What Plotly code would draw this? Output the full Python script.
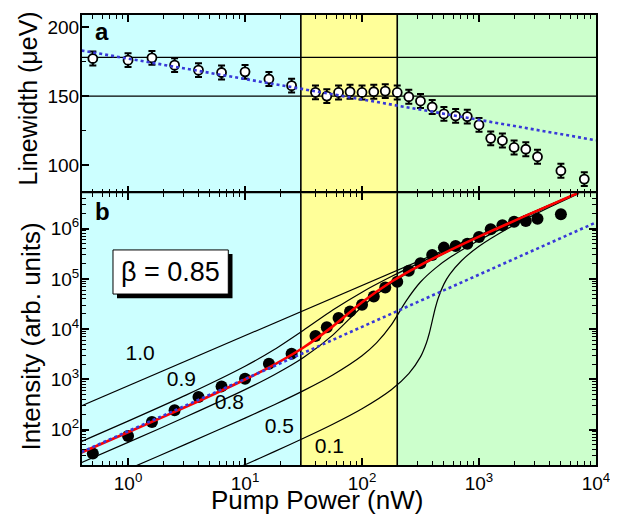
import math
import plotly.graph_objects as go
from plotly.subplots import make_subplots

# ---------------- data ----------------
# panel a: linewidth vs pump power
pump_a = [0.5, 1, 1.6, 2.5, 4, 6.3, 10, 16, 25, 40, 50, 63, 79, 100, 126, 158, 200,
          251, 316, 398, 501, 631, 794, 1000, 1259, 1585, 1995, 2512, 3162, 5012, 7943]
linewidth = [177.2, 176.0, 177.7, 172.4, 168.8, 167.1, 167.6, 162.4, 157.6, 152.8, 150.1,
             152.7, 153.2, 152.7, 153.2, 153.7, 152.7, 149.6, 146.5, 142.2, 137.2, 135.8,
             135.3, 129.3, 119.6, 118.0, 113.0, 111.7, 106.3, 96.2, 90.2]
linewidth_err = 5.0
ref_levels = [178, 150]
lw_fit_pump = [0.4, 10000]
lw_fit = [183.0, 118.2]

# panel b: intensity vs pump power
pump_b = [0.5, 1, 1.6, 2.5, 4, 6.3, 10, 16, 25, 40, 50, 63, 79, 100, 126, 158, 200,
          251, 316, 398, 501, 631, 794, 1000, 1259, 1585, 1995, 2512, 3162, 5012]
intensity = [33.4, 74.6, 141.6, 241.5, 443.6, 722.8, 1028, 2042, 3236, 7261, 10860, 16670,
             22540, 30620, 44770, 67450, 87500, 144900, 205600, 300600, 419800, 453900,
             503500, 683900, 972700, 1167000, 1377000, 1422000, 1578000, 1932000]

curve_pump = [0.4, 1, 3.16, 10, 17.8, 31.6, 56.2, 100, 178, 316, 562, 1000, 1780, 3160, 7080]
beta10_pump = [0.4, 7080]
beta10_int = [296.5, 5.248e6]
beta09_int = [57.8, 146.9, 489.8, 1820, 3918, 9506, 23990, 54450, 111200, 213300, 395400,
              719400, 1297000, 2323000, 5224000]
fit085_int = [34.9, 88.3, 286.4, 990.8, 1963, 4295, 11320, 34200, 87700, 188800, 370700,
              695000, 1271000, 2296000, 5200000]
beta08_int = [21.98, 55.3, 181.1, 622.3, 1233, 2716, 7586, 27930, 81280, 182400, 363900,
              688700, 1265000, 2291000, 5188000]
beta05_pump = [0.4, 1, 3.16, 10, 17.8, 31.6, 56.2, 100, 133, 178, 237, 316, 422, 562, 1000,
               1780, 3160, 7080]
beta05_int = [6.43, 16.18, 51.64, 168.7, 311.9, 595.7, 1222, 2951, 5321, 12100, 35730, 86700,
              162200, 265500, 588800, 1164000, 2193000, 5093000]
beta01_pump = [8.91, 10, 17.8, 31.6, 56.2, 100, 178, 251, 316, 355, 376, 398, 422, 447, 501,
               562, 708, 1000, 1780, 3160, 7080]
beta01_int = [17.74, 19.91, 36.22, 66.83, 127.4, 259.4, 620.9, 1300, 2799, 5297, 8260, 14450,
              25700, 40830, 78700, 122700, 229600, 446700, 1023000, 2046000, 4955000]
spont_pump = [0.4, 10000]
spont_int = [35.6, 1.334e6]

beta_labels = ["1.0", "0.9", "0.8", "0.5", "0.1"]
beta_label_x = [1.27, 2.86, 7.34, 19.6, 52.6]
beta_label_y = [3120, 950, 333, 110, 44]

region_edges = [30, 200]
x_ticks = [1, 10, 100, 1000, 10000]
x_ticktext = ["10<sup>0</sup>", "10<sup>1</sup>", "10<sup>2</sup>", "10<sup>3</sup>", "10<sup>4</sup>"]
yb_ticks = [1e2, 1e3, 1e4, 1e5, 1e6]
yb_ticktext = ["10<sup>2</sup>", "10<sup>3</sup>", "10<sup>4</sup>", "10<sup>5</sup>", "10<sup>6</sup>"]

# ---------------- style ----------------
FONT = "Liberation Sans, Arial, Helvetica, sans-serif"
CYAN = "#CCFFFF"
YELLOW = "#FFFF99"
GREEN = "#CCFFCC"
BLUE = "#3838D8"
RED = "#FF0000"

fig = make_subplots(rows=2, cols=1, shared_xaxes=True, vertical_spacing=0,
                    row_heights=[0.396, 0.604])

# background regions
edges = [0.1] + region_edges + [1e5]
colors = [CYAN, YELLOW, GREEN]
for row, (ylo, yhi) in [(1, (0, 300)), (2, (1, 1e8))]:
    for i, c in enumerate(colors):
        fig.add_trace(go.Scatter(x=[edges[i], edges[i + 1], edges[i + 1], edges[i]],
                                 y=[ylo, ylo, yhi, yhi], fill="toself", fillcolor=c,
                                 mode="none", hoverinfo="skip"), row=row, col=1)
    for e in region_edges:
        fig.add_trace(go.Scatter(x=[e, e], y=[ylo, yhi], mode="lines",
                                 line=dict(color="black", width=1.6), hoverinfo="skip"),
                      row=row, col=1)

# panel a
for lev in ref_levels:
    fig.add_trace(go.Scatter(x=[0.1, 1e5], y=[lev, lev], mode="lines",
                             line=dict(color="black", width=1.2)), row=1, col=1)
fig.add_trace(go.Scatter(x=pump_a, y=linewidth, mode="markers",
                         marker=dict(symbol="circle", size=9, color="white",
                                     line=dict(color="black", width=1.8)),
                         error_y=dict(type="constant", value=linewidth_err, color="black",
                                      thickness=2, width=3.5)), row=1, col=1)
fig.add_trace(go.Scatter(x=lw_fit_pump, y=lw_fit, mode="lines",
                         line=dict(color=BLUE, width=2.6, dash="dot")), row=1, col=1)

# panel b model curves
blk = dict(color="black", width=1.2, shape="spline", smoothing=0.6)
fig.add_trace(go.Scatter(x=beta10_pump, y=beta10_int, mode="lines", line=blk), row=2, col=1)
fig.add_trace(go.Scatter(x=curve_pump, y=beta09_int, mode="lines", line=blk), row=2, col=1)
fig.add_trace(go.Scatter(x=curve_pump, y=beta08_int, mode="lines", line=blk), row=2, col=1)
fig.add_trace(go.Scatter(x=beta05_pump, y=beta05_int, mode="lines", line=blk), row=2, col=1)
fig.add_trace(go.Scatter(x=beta01_pump, y=beta01_int, mode="lines", line=blk), row=2, col=1)

fig.add_trace(go.Scatter(x=pump_b, y=intensity, mode="markers",
                         marker=dict(symbol="circle", size=12, color="black")), row=2, col=1)
fig.add_trace(go.Scatter(x=curve_pump, y=fit085_int, mode="lines",
                         line=dict(color=RED, width=2.6, shape="spline", smoothing=0.6)),
              row=2, col=1)
fig.add_trace(go.Scatter(x=spont_pump, y=spont_int, mode="lines",
                         line=dict(color=BLUE, width=2.6, dash="dot")), row=2, col=1)
fig.add_trace(go.Scatter(x=beta_label_x, y=beta_label_y, mode="text", text=beta_labels,
                         textposition="middle center",
                         textfont=dict(family=FONT, size=21, color="black")), row=2, col=1)

# ---------------- axes ----------------
minor_x = [m * 10 ** k for k in range(-1, 4) for m in range(2, 10) if 0.404 <= m * 10 ** k <= 1e4]
minor_yb = [m * 10 ** k for k in range(1, 7) for m in range(2, 10) if 19.6 <= m * 10 ** k <= 5.1e6]

xcommon = dict(type="log", range=[math.log10(0.404), 4.0], showline=True, linewidth=2,
               linecolor="black", mirror="ticks", ticks="inside", ticklen=7, tickwidth=1.5,
               tickcolor="black", tickmode="array", tickvals=x_ticks, ticktext=x_ticktext,
               minor=dict(tickmode="array", tickvals=minor_x, ticks="inside", ticklen=4,
                          tickwidth=1.2, tickcolor="black"),
               showgrid=False, zeroline=False,
               tickfont=dict(family=FONT, size=19, color="black"))
fig.update_xaxes(**xcommon)
fig.update_xaxes(showticklabels=False, row=1, col=1)
fig.update_xaxes(showticklabels=True, row=2, col=1)

fig.update_yaxes(range=[80, 208.6], domain=[0.604, 1.0], showline=True, linewidth=2,
                 linecolor="black", mirror=True, ticks="inside", ticklen=7, tickwidth=1.5,
                 tickcolor="black", tickmode="array", tickvals=[100, 150, 200],
                 minor=dict(tickmode="array", tickvals=[125, 175], ticks="inside", ticklen=4,
                            tickwidth=1.2, tickcolor="black"),
                 showgrid=False, zeroline=False, ticklabelstandoff=-3,
                 tickfont=dict(family=FONT, size=19, color="black"), row=1, col=1)
fig.update_yaxes(type="log", range=[1.293, 6.707], domain=[0.0, 0.604], showline=True,
                 linewidth=2, linecolor="black", mirror="ticks", ticks="inside", ticklen=7,
                 tickwidth=1.5, tickcolor="black", tickmode="array", tickvals=yb_ticks,
                 ticktext=yb_ticktext,
                 minor=dict(tickmode="array", tickvals=minor_yb, ticks="inside", ticklen=4,
                            tickwidth=1.2, tickcolor="black"),
                 showgrid=False, zeroline=False, ticklabelstandoff=-3,
                 tickfont=dict(family=FONT, size=19, color="black"), row=2, col=1)

# beta box with shadow
fig.add_shape(type="rect", xref="paper", yref="paper", x0=0.0681, x1=0.2928, y0=0.3706,
              y1=0.469, fillcolor="black", line=dict(width=0), layer="above")
fig.add_shape(type="rect", xref="paper", yref="paper", x0=0.0603, x1=0.2846, y0=0.3799,
              y1=0.4779, fillcolor="white", line=dict(color="black", width=1), layer="above")

annotations = [
    dict(text="β = 0.85", x=0.1726, y=0.4292, xref="paper", yref="paper", showarrow=False,
         xanchor="center", yanchor="middle", font=dict(family=FONT, size=27, color="black")),
    dict(text="<b>a</b>", x=0.0214, y=0.9626, xref="paper", yref="paper", showarrow=False,
         xanchor="left", yanchor="middle", font=dict(family=FONT, size=24, color="black")),
    dict(text="<b>b</b>", x=0.0214, y=0.5644, xref="paper", yref="paper", showarrow=False,
         xanchor="left", yanchor="middle", font=dict(family=FONT, size=24, color="black")),
    dict(text="Linewidth (μeV)", x=-0.1054, y=0.814, xref="paper", yref="paper",
         showarrow=False, textangle=-90, xanchor="center", yanchor="middle",
         font=dict(family=FONT, size=25, color="black")),
    dict(text="Intensity (arb. units)", x=-0.0992, y=0.2854, xref="paper", yref="paper",
         showarrow=False, textangle=-90, xanchor="center", yanchor="middle",
         font=dict(family=FONT, size=26, color="black")),
    dict(text="Pump Power (nW)", x=0.458, y=-0.0783, xref="paper", yref="paper",
         showarrow=False, xanchor="center", yanchor="middle",
         font=dict(family=FONT, size=26, color="black")),
]

# the page body keeps the browser's default 8px margin, so the figure is sized to
# fill the remaining window and the margins are offset accordingly
fig.update_layout(width=610, height=509, margin=dict(l=74, r=22, t=5, b=52),
                  paper_bgcolor="white", plot_bgcolor="white", showlegend=False,
                  hovermode=False, annotations=annotations,
                  font=dict(family=FONT, color="black"))

fig.write_html("out.html")
